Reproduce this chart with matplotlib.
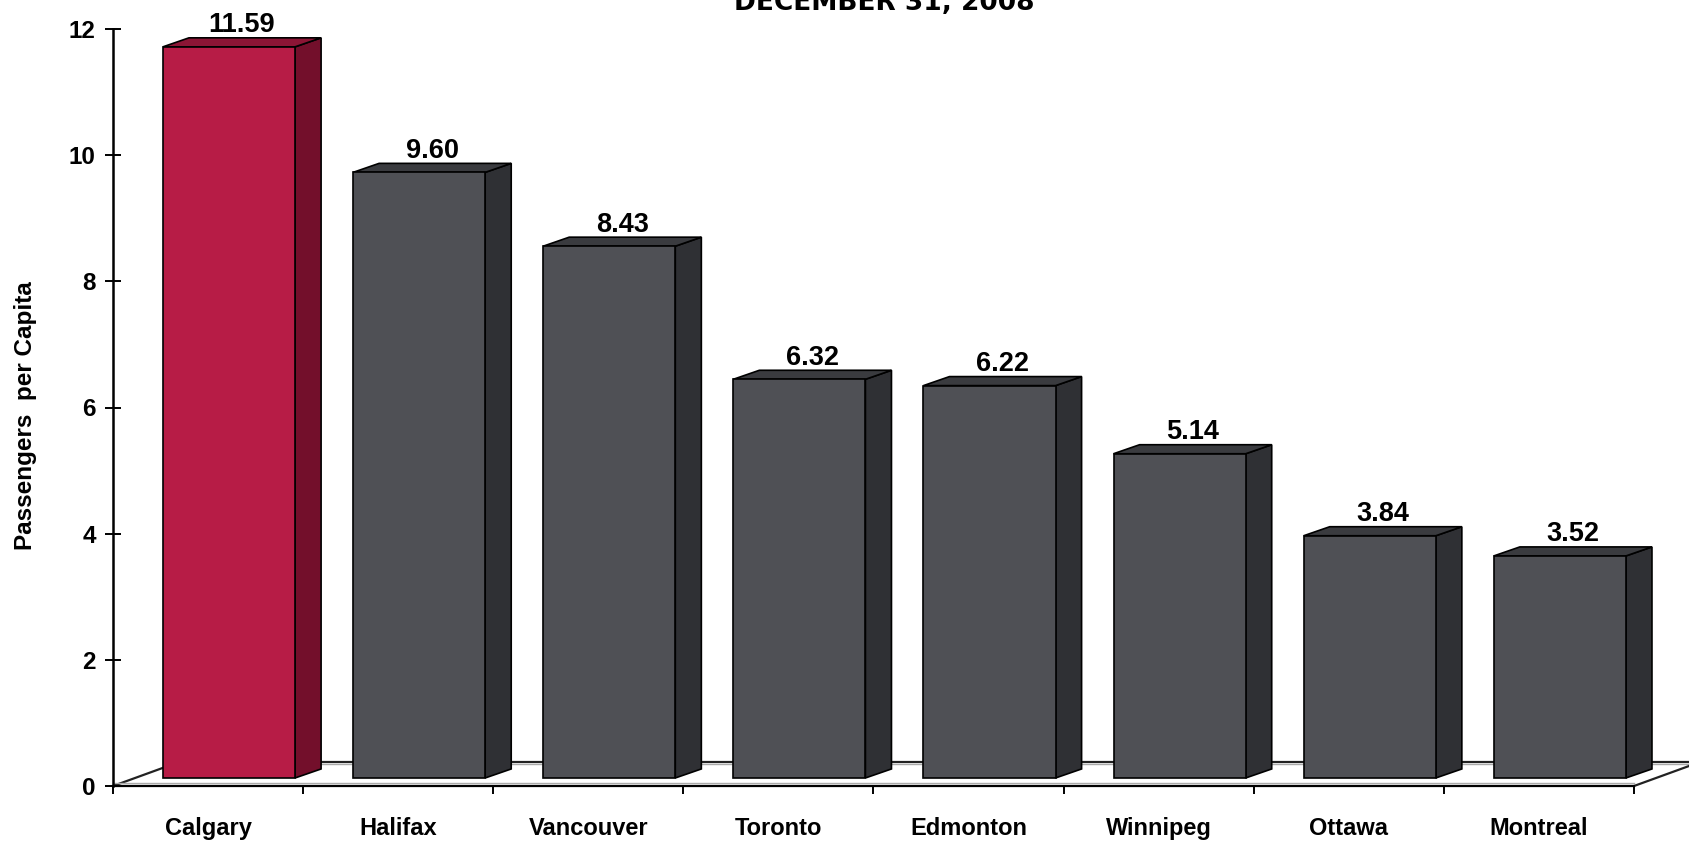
import matplotlib
matplotlib.use("Agg")
import matplotlib.pyplot as plt
from matplotlib.patches import Polygon, Rectangle
from matplotlib.lines import Line2D

cities = ["Calgary", "Halifax", "Vancouver", "Toronto", "Edmonton", "Winnipeg", "Ottawa", "Montreal"]
values = [11.59, 9.60, 8.43, 6.32, 6.22, 5.14, 3.84, 3.52]
value_labels = ["11.59", "9.60", "8.43", "6.32", "6.22", "5.14", "3.84", "3.52"]
y_ticks = [0, 2, 4, 6, 8, 10, 12]
title_text = "DECEMBER 31, 2008"
y_label = "Passengers  per Capita"

highlight = {"front": "#B71C46", "side": "#730F2B", "top": "#8C1535"}
normal = {"front": "#4F5055", "side": "#2F3034", "top": "#3A3B3F"}

plt.rcParams['font.family'] = ['Liberation Sans', 'DejaVu Sans']

fig = plt.figure(figsize=(16.9, 8.42), dpi=100)
ax_bottom_px, ax_top_px = 786, 29
ax = fig.add_axes([113/1690, (842 - ax_bottom_px)/842, 1521/1690, (ax_bottom_px - ax_top_px)/842])
ax.set_xlim(0, 8)
ax.set_ylim(0, 12)

# pseudo-3D offsets (in data units)
ox, oy = 0.11, 0.127     # front face shift from axis plane
dx, dy = 0.137, 0.143    # bar depth
fx, fy = 0.347, 0.38     # floor depth
w = 0.695                # bar width

# floor
floor_back = dict(color="#222222", lw=1.6, zorder=1, clip_on=False)
ax.plot([fx, 8 + fx], [fy, fy], **floor_back)
ax.plot([fx, 8 + fx], [fy - 0.03, fy - 0.03], color="#aaaaaa", lw=1.0, zorder=1, clip_on=False)
ax.plot([0, fx], [0, fy], **floor_back)
ax.plot([8, 8 + fx], [0, fy], **floor_back)
ax.plot([0, 8], [0.04, 0.04], color="#aaaaaa", lw=1.0, zorder=1, clip_on=False)

# light shadow next to the value axis
fig.add_artist(Line2D([116/1690, 116/1690], [(842 - ax_bottom_px)/842, (842 - ax_top_px)/842],
                      color="#bbbbbb", lw=1.5, zorder=0))

for i, (v, lab) in enumerate(zip(values, value_labels)):
    c = highlight if i == 0 else normal
    xl = i + 0.5 - w / 2 + ox
    xr = xl + w
    yb = oy
    yt = oy + v
    front = Rectangle((xl, yb), w, v, facecolor=c["front"], edgecolor="black", lw=1.2, zorder=3, clip_on=False)
    side = Polygon([(xr, yb), (xr + dx, yb + dy), (xr + dx, yt + dy), (xr, yt)], closed=True,
                   facecolor=c["side"], edgecolor="black", lw=1.2, zorder=2, clip_on=False)
    top = Polygon([(xl, yt), (xl + dx, yt + dy), (xr + dx, yt + dy), (xr, yt)], closed=True,
                  facecolor=c["top"], edgecolor="black", lw=1.2, zorder=2, clip_on=False)
    ax.add_patch(side)
    ax.add_patch(top)
    ax.add_patch(front)
    ax.annotate(lab, xy=((xl + xr) / 2 + dx / 2, yt + dy), xytext=(0, 4), textcoords="offset points",
                ha="center", va="baseline", fontsize=19.5, fontweight="bold", annotation_clip=False)

for s in ["top", "right"]:
    ax.spines[s].set_visible(False)
ax.spines["left"].set_linewidth(1.8)
ax.spines["bottom"].set_linewidth(1.6)
ax.spines["left"].set_zorder(4)

ax.set_yticks(y_ticks)
ax.set_yticklabels([str(t) for t in y_ticks], fontsize=17.5, fontweight="bold")
ax.tick_params(axis="y", direction="inout", length=11, width=1.4, pad=7)

ax.set_xticks(range(9))
ax.set_xticklabels([""] * 9)
ax.tick_params(axis="x", which="major", direction="out", length=6, width=1.4)
ax.set_xticks([i + 0.5 for i in range(8)], minor=True)
ax.set_xticklabels(cities, minor=True, fontsize=17, fontweight="bold")
ax.tick_params(axis="x", which="minor", length=0, pad=22)

fig.text(26/1690, 1 - 416/842, y_label, rotation=90, ha="center", va="center",
         fontsize=17.5, fontweight="bold")
fig.text(884/1690, 1 - 10/842, title_text, ha="center", va="baseline",
         fontsize=19, fontweight="bold", family=["DejaVu Sans"])

fig.savefig("out.png", dpi=100)
